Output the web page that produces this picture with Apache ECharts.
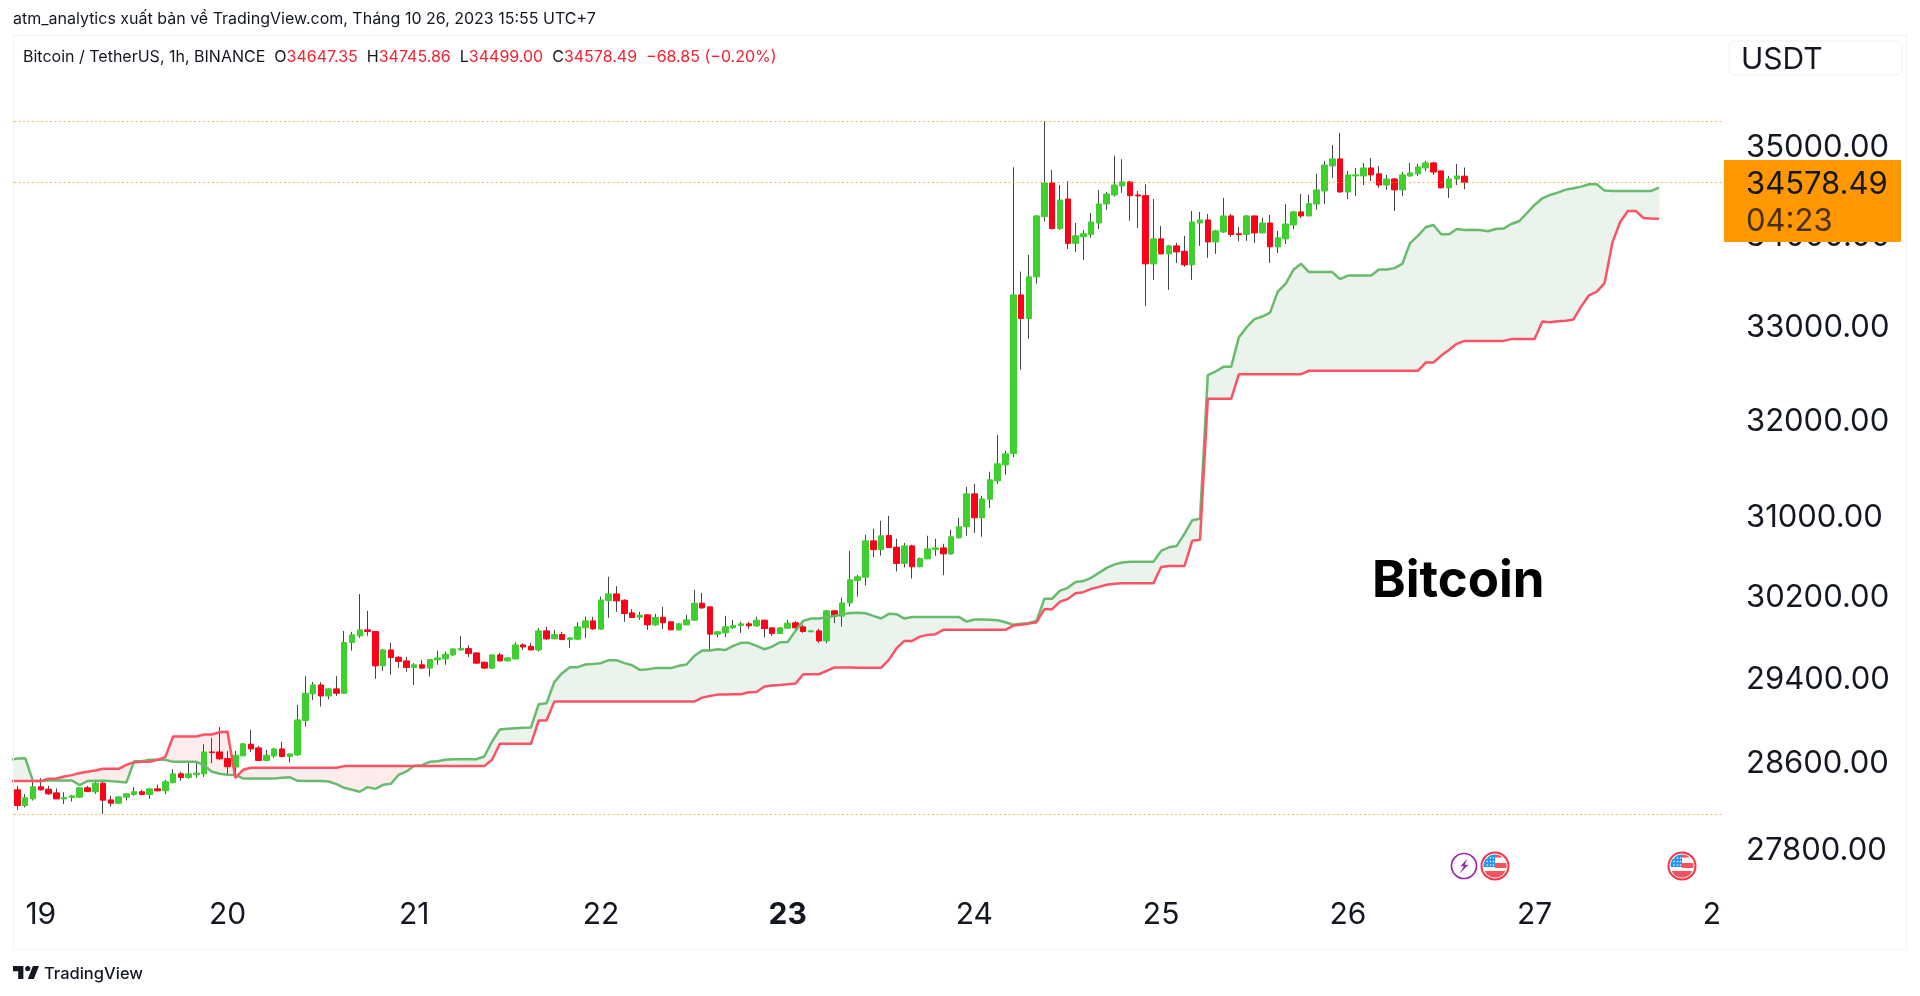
<!DOCTYPE html>
<html>
<head>
<meta charset="utf-8">
<title>Bitcoin / TetherUS</title>
<style>html,body{margin:0;padding:0;background:#fff}#c{width:1920px;height:996px}</style>
<script src="https://cdn.jsdelivr.net/npm/echarts@6/dist/echarts.min.js"></script>
</head>
<body>
<div id="c"></div>
<script>
// hours counted from 19 Oct 00:00 (UTC+7); first candle sits at hour -3, first cloud point at hour -4
const firstCandleHour = -3;
const firstCloudHour = -4;
const dayLabels = ['19','20','21','22','23','24','25','26','27','28'];
const dayTicks = [0,24,48,72,96,120,144,168,192,216];
const priceTicks = [27800,28600,29400,30200,31000,32000,33000,34000,35000];
const lastClose = 34578.49;
const rangeHigh = 35276;
const rangeLow = 28113;

const opens = [
28336,28191,28252,28364,28342,28308,28252,28265,28268,28355,
28318,28398,28243,28212,28268,28293,28318,28293,28345,28327,
28402,28485,28451,28476,28485,28690,28690,28628,28548,28653,
28763,28728,28610,28653,28718,28647,28662,28987,29241,29327,
29221,29289,29247,29737,29802,29861,29845,29511,29665,29594,
29559,29495,29521,29489,29569,29578,29617,29665,29678,29636,
29546,29489,29617,29559,29578,29714,29701,29665,29851,29773,
29815,29766,29770,29881,29949,29868,30149,30215,30152,30028,
29985,30008,29910,29985,29940,29861,29910,29956,30123,30087,
29819,29832,29881,29904,29920,29900,29956,29881,29825,29878,
29930,29891,29842,29851,29753,30048,29995,30126,30348,30381,
30745,30657,30799,30681,30518,30694,30485,30564,30657,30674,
30614,30776,30887,31222,30978,31167,31355,31520,31637,33325,
33068,33523,34191,34570,34057,34389,33893,33966,33992,34120,
34333,34435,34536,34582,34435,34427,33666,33943,33776,33865,
33805,33655,34120,34154,33909,34020,34199,34000,33992,34199,
34009,34120,33854,33943,34098,34244,34199,34333,34480,34764,
34844,34469,34650,34650,34741,34674,34547,34616,34492,34650,
34674,34741,34798,34707,34515,34616,34647.35];
const closes = [
28191,28262,28364,28336,28299,28252,28265,28280,28355,28321,
28398,28240,28212,28271,28299,28318,28293,28345,28327,28411,
28485,28451,28485,28492,28690,28684,28625,28551,28659,28766,
28718,28610,28659,28718,28647,28672,28993,29247,29327,29221,
29289,29247,29737,29812,29861,29845,29511,29665,29591,29553,
29495,29521,29489,29572,29588,29623,29675,29681,29630,29537,
29489,29617,29559,29588,29714,29694,29665,29851,29773,29815,
29766,29783,29891,29949,29871,30155,30215,30146,30021,29982,
30005,29910,29982,29930,29861,29920,29959,30123,30077,29819,
29842,29891,29904,29920,29900,29956,29874,29825,29881,29927,
29881,29845,29851,29753,30048,29995,30126,30355,30385,30745,
30657,30796,30678,30518,30694,30485,30567,30664,30674,30614,
30786,30887,31222,30978,31170,31366,31531,31634,33325,33068,
33523,34199,34570,34057,34378,33893,33977,34000,34131,34333,
34446,34547,34582,34427,34424,33666,33943,33776,33865,33798,
33655,34131,34154,33909,34031,34199,33992,33989,34199,34009,
34120,33854,33955,34109,34244,34199,34337,34492,34775,34844,
34469,34662,34662,34741,34662,34547,34616,34492,34662,34684,
34752,34798,34695,34515,34616,34650,34578.49];
const lows = [
28151,28173,28237,28330,28290,28250,28206,28228,28262,28318,
28299,28113,28182,28208,28237,28280,28287,28252,28321,28296,
28398,28420,28439,28448,28457,28585,28616,28467,28476,28650,
28690,28606,28603,28634,28645,28591,28653,28930,29183,29120,
29189,29221,29241,29659,29783,29802,29386,29463,29424,29492,
29453,29327,29479,29408,29521,29521,29607,29659,29598,29530,
29479,29479,29553,29553,29575,29665,29662,29649,29763,29770,
29763,29685,29763,29783,29861,29861,29979,30038,29940,29976,
29959,29861,29900,29871,29858,29855,29907,29949,30067,29652,
29789,29793,29871,29832,29871,29891,29789,29802,29822,29874,
29871,29832,29838,29734,29730,29927,29894,30090,30188,30298,
30578,30597,30675,30438,30478,30368,30481,30560,30594,30401,
30604,30766,30796,30826,30786,31079,31325,31417,31600,32517,
32849,33449,34135,34050,34042,33831,33798,33710,33955,34053,
34266,34416,34458,34147,34065,33205,33490,33770,33380,33677,
33633,33490,33865,33732,33776,34009,33966,33915,33921,33898,
34005,33677,33787,33887,34050,34173,34195,34269,34333,34628,
34458,34389,34424,34547,34593,34515,34492,34255,34424,34639,
34650,34707,34662,34510,34401,34547,34499];
const highs = [
28373,28296,28414,28445,28373,28349,28314,28290,28358,28373,
28414,28429,28280,28275,28302,28361,28336,28351,28383,28429,
28529,28504,28585,28600,28763,28823,28924,28700,28700,28775,
28899,28747,28709,28728,28785,28675,29136,29411,29356,29353,
29299,29411,29851,29842,30214,30048,29848,29675,29737,29607,
29598,29537,29569,29575,29659,29649,29681,29802,29711,29643,
29553,29623,29636,29594,29737,29730,29734,29878,29891,29861,
29842,29789,29933,29992,29989,30188,30385,30292,30162,30064,
30038,30015,30018,30087,29946,29927,30008,30255,30225,30090,
29851,29999,29959,29943,29940,29989,29959,29884,29884,29959,
29946,29910,29855,29871,30057,30057,30178,30644,30405,30806,
30867,30948,30998,30766,30725,30705,30577,30796,30766,30715,
30857,30978,31294,31325,31201,31449,31832,31665,34749,33581,
33765,34210,35276,34718,34547,34593,34120,34042,34232,34492,
34469,34881,34840,34593,34480,34555,34389,34087,33876,33898,
33977,34255,34244,34221,34042,34401,34221,34076,34210,34203,
34180,34210,34031,34333,34255,34446,34437,34674,34821,35003,
35143,34707,34741,34798,34855,34764,34662,34628,34695,34798,
34787,34821,34810,34710,34650,34787,34745.86];

const spanA = [
28616,28628,28631,28417,28417,28423,28423,28423,28423,28380,
28417,28420,28420,28417,28411,28405,28603,28603,28616,28616,
28616,28597,28597,28597,28597,28563,28504,28485,28476,28473,
28442,28442,28442,28442,28442,28448,28454,28420,28417,28417,
28417,28414,28389,28355,28336,28318,28361,28345,28383,28392,
28476,28507,28560,28566,28597,28603,28616,28622,28622,28622,
28622,28647,28788,28902,28908,28914,28918,28921,29142,29151,
29354,29440,29498,29498,29524,29530,29537,29566,29566,29537,
29517,29472,29479,29489,29489,29489,29511,29524,29607,29659,
29659,29672,29665,29704,29734,29734,29704,29672,29698,29740,
29743,29851,29949,29972,29972,29985,29998,30014,30027,30028,
30024,29998,29972,30018,30015,29972,29988,29988,29988,29988,
29988,29988,29988,29942,29962,29962,29959,29955,29936,29910,
29920,29927,29952,30168,30168,30248,30275,30332,30342,30375,
30424,30474,30509,30528,30534,30534,30534,30534,30644,30680,
30694,30816,30954,30968,32461,32499,32549,32549,32867,32975,
33062,33090,33133,33361,33446,33600,33666,33575,33575,33575,
33575,33498,33537,33537,33537,33537,33603,33603,33619,33666,
33895,33977,34072,34098,33994,33994,34053,34042,34045,34042,
34027,34053,34057,34109,34139,34229,34322,34397,34435,34461,
34495,34511,34529,34556,34556,34484,34480,34480,34480,34480,
34480,34480,34518];
const spanB = [
28417,28417,28417,28417,28417,28439,28442,28460,28473,28492,
28504,28516,28532,28532,28532,28569,28594,28597,28597,28616,
28641,28835,28835,28835,28835,28854,28854,28876,28880,28448,
28523,28541,28541,28541,28541,28541,28541,28541,28541,28541,
28541,28541,28541,28557,28557,28557,28557,28557,28557,28557,
28557,28557,28557,28557,28557,28557,28557,28557,28557,28557,
28557,28557,28616,28766,28766,28766,28766,28766,28987,28987,
29167,29167,29167,29167,29167,29167,29167,29167,29167,29167,
29167,29167,29167,29167,29167,29167,29167,29167,29167,29205,
29221,29234,29234,29237,29237,29256,29260,29312,29321,29327,
29334,29340,29430,29430,29430,29463,29495,29495,29495,29492,
29492,29492,29492,29569,29682,29753,29753,29795,29812,29819,
29861,29861,29861,29861,29861,29861,29861,29861,29861,29903,
29910,29923,29936,30064,30064,30138,30165,30222,30232,30265,
30285,30305,30315,30320,30320,30320,30320,30320,30482,30492,
30492,30492,30745,30755,32209,32209,32209,32209,32471,32471,
32471,32471,32471,32471,32471,32471,32471,32507,32507,32507,
32507,32507,32507,32507,32507,32507,32507,32507,32507,32507,
32507,32507,32595,32595,32669,32730,32795,32827,32827,32827,
32827,32827,32827,32846,32846,32846,32846,33036,33029,33040,
33044,33058,33200,33321,33362,33454,33901,34131,34255,34255,
34176,34170,34168];

const GREEN = '#3dd02e', RED = '#ff0019', WICK = '#43464f';
const font = 'Inter, "Noto Sans", sans-serif';

const wickRows = opens.map((o, i) => [firstCandleHour + i, o, closes[i], lows[i], highs[i]]);
const bodyRows = opens.map((o, i) => [firstCandleHour + i, o, closes[i], Math.min(o, closes[i]), Math.max(o, closes[i])]);
const cloudHour = i => firstCloudHour + i;
const lineA = spanA.map((v, i) => [cloudHour(i), v]);
const lineB = spanB.map((v, i) => [cloudHour(i), v]);
const cloudRows = spanA.slice(0, -1).map((a, i) => [cloudHour(i), a, spanB[i], cloudHour(i + 1), spanA[i + 1], spanB[i + 1]]);

function cloudSegment(params, api) {
  const h0 = api.value(0), a0 = api.value(1), b0 = api.value(2), h1 = api.value(3), a1 = api.value(4), b1 = api.value(5);
  const A0 = api.coord([h0, a0]), B0 = api.coord([h0, b0]), A1 = api.coord([h1, a1]), B1 = api.coord([h1, b1]);
  const poly = (pts, up) => ({
    type: 'polygon', shape: { points: pts },
    style: { fill: up ? '#eaf3ec' : '#fdecec', stroke: up ? '#eaf3ec' : '#fdecec', lineWidth: 1 }
  });
  const d0 = B0[1] - A0[1], d1 = B1[1] - A1[1];
  if (d0 * d1 < 0) {
    const t = d0 / (d0 - d1);
    const X = [A0[0] + (A1[0] - A0[0]) * t, A0[1] + (A1[1] - A0[1]) * t];
    return { type: 'group', children: [poly([A0, X, B0], d0 > 0), poly([X, A1, B1], d1 > 0)] };
  }
  return poly([A0, A1, B1, B0], d0 + d1 >= 0);
}

const flagSvg = 'data:image/svg+xml;utf8,' + encodeURIComponent(
 '<svg xmlns="http://www.w3.org/2000/svg" width="30" height="30" viewBox="0 0 30 30"><defs><clipPath id="k"><circle cx="15" cy="15" r="11.5"/></clipPath></defs>' +
 '<circle cx="15" cy="15" r="13.5" fill="#fff" stroke="#f23645" stroke-width="2"/><g clip-path="url(#k)">' +
 '<rect x="3" y="3" width="24" height="24" fill="#fff"/><rect x="15" y="3" width="12" height="3.5" fill="#f7525f"/><rect x="15" y="12" width="12" height="5" fill="#f7525f"/><rect x="3" y="20" width="24" height="7" fill="#f7525f"/>' +
 '<rect x="3" y="3" width="12" height="13" fill="#2196f3"/>' +
 '<g fill="#fff"><circle cx="7" cy="7" r=".8"/><circle cx="10.5" cy="7" r=".8"/><circle cx="13.5" cy="7" r=".8"/><circle cx="7" cy="10.5" r=".8"/><circle cx="10.5" cy="10.5" r=".8"/><circle cx="13.5" cy="10.5" r=".8"/><circle cx="7" cy="14" r=".8"/><circle cx="10.5" cy="14" r=".8"/><circle cx="13.5" cy="14" r=".8"/></g></g></svg>');
const boltSvg = 'data:image/svg+xml;utf8,' + encodeURIComponent(
 '<svg xmlns="http://www.w3.org/2000/svg" width="28" height="28" viewBox="0 0 28 28"><circle cx="14" cy="14" r="12.5" fill="#fff" stroke="#9c27b0" stroke-width="1.7"/><path d="M17.5 6.5 L10.5 14.2 L13.8 14.2 L9.5 21.5 L18.5 12.8 L14.8 12.8 Z" fill="#9c27b0"/></svg>');
const tvLogoSvg = 'data:image/svg+xml;utf8,' + encodeURIComponent(
 '<svg xmlns="http://www.w3.org/2000/svg" width="26" height="13" viewBox="2 6 30 15"><path fill="#131722" d="M14 6H2v6h6v9h6V6Zm12 15h-7l6-15h7l-6 15Zm-7-9a3 3 0 1 0 0-6 3 3 0 0 0 0 6Z"/></svg>');

const graphicEls = [
  { type: 'rect', z: 5, shape: { x: 1723, y: 892, width: 40, height: 54 }, style: { fill: '#fff' }, silent: true },
  { type: 'rect', z: 6, shape: { x: 13.5, y: 35.5, width: 1893, height: 914 }, style: { fill: 'none', stroke: '#f0f1f5', lineWidth: 1 }, silent: true },
  { type: 'text', z: 6, style: { x: 13, y: 19, text: 'atm_analytics xuất bản về TradingView.com, Tháng 10 26, 2023 15:55 UTC+7', font: '16px ' + font, fill: '#131722', textVerticalAlign: 'middle' } },
  { type: 'text', z: 6, style: { x: 23, y: 57, textVerticalAlign: 'middle', font: '16px ' + font,
      text: '{k|Bitcoin / TetherUS, 1h, BINANCE}{k|  O}{r|34647.35}{k|  H}{r|34745.86}{k|  L}{r|34499.00}{k|  C}{r|34578.49}{r|  −68.85 (−0.20%)}',
      rich: { k: { fill: '#131722', font: '16px ' + font }, r: { fill: '#f7202f', font: '16px ' + font } } } },
  { type: 'rect', z: 6, shape: { x: 1729, y: 41, width: 173, height: 34, r: 6 }, style: { fill: '#fff', stroke: '#eff1f5', lineWidth: 1 } },
  { type: 'text', z: 7, style: { x: 1741, y: 60, text: 'USDT', font: '30px ' + font, fill: '#131722', textVerticalAlign: 'middle' } },
  { type: 'rect', z: 20, shape: { x: 1724, y: 160, width: 177, height: 82, r: 1 }, style: { fill: '#ff9800' } },
  { type: 'text', z: 21, style: { x: 1746, y: 185, text: lastClose.toFixed(2), font: '31px ' + font, fill: '#131722', textVerticalAlign: 'middle' } },
  { type: 'text', z: 21, style: { x: 1746, y: 222, text: '04:23', font: '31px ' + font, fill: '#4a3000', textVerticalAlign: 'middle' } },
  { type: 'text', z: 6, style: { x: 1372, y: 582, text: 'Bitcoin', font: 'bold 51px ' + font, fill: '#000', textVerticalAlign: 'middle' } },
  { type: 'image', z: 6, style: { image: boltSvg, x: 1450, y: 852, width: 28, height: 28 } },
  { type: 'image', z: 6, style: { image: flagSvg, x: 1480, y: 851, width: 30, height: 30 } },
  { type: 'image', z: 6, style: { image: flagSvg, x: 1667, y: 851, width: 30, height: 30 } },
  { type: 'image', z: 6, style: { image: tvLogoSvg, x: 13, y: 966, width: 26, height: 13 } },
  { type: 'text', z: 6, style: { x: 44, y: 974, text: 'TradingView', font: '500 16.5px ' + font, fill: '#131722', textVerticalAlign: 'middle' } }
];

const chart = echarts.init(document.getElementById('c'), null, { renderer: 'canvas' });
chart.setOption({
  animation: false,
  backgroundColor: '#fff',
  grid: { left: 14, top: 36, width: 1710, height: 854, containLabel: false },
  xAxis: {
    type: 'value', min: -3.445, max: 216.35, z: 1,
    axisLine: { show: false }, axisTick: { show: false }, splitLine: { show: false },
    axisLabel: {
      customValues: dayTicks, hideOverlap: false, showMinLabel: true, showMaxLabel: true, margin: 10,
      formatter: v => { const s = dayLabels[dayTicks.indexOf(v)]; return s === '23' ? '{b|' + s + '}' : '{n|' + s + '}'; },
      rich: {
        n: { fontFamily: 'Inter', fontSize: 30, color: '#131722' },
        b: { fontFamily: 'Inter', fontSize: 30, fontWeight: 'bold', color: '#131722' }
      }
    }
  },
  yAxis: {
    type: 'log', logBase: 10, min: 27421, max: 36276, position: 'right', z: 10,
    axisLine: { show: false }, axisTick: { show: false }, splitLine: { show: false }, minorTick: { show: false },
    axisLabel: {
      customValues: priceTicks, align: 'left', margin: 22,
      formatter: v => '{v|' + Number(v).toFixed(2) + '}',
      rich: { v: { fontFamily: 'Inter', fontSize: 31, color: '#131722', padding: [5, 0, 0, 0] } }
    }
  },
  series: [
    { type: 'custom', name: 'Cloud', z: 1, clip: true, silent: true, renderItem: cloudSegment,
      data: cloudRows, encode: { x: [0, 3], y: [1, 2, 4, 5] } },
    { type: 'candlestick', name: 'Wicks', z: 2, barWidth: 1, silent: true, clip: true,
      itemStyle: { color: WICK, color0: WICK, borderColor: WICK, borderColor0: WICK, borderWidth: 1 },
      data: wickRows },
    { type: 'candlestick', name: 'Bitcoin / TetherUS', z: 3, barWidth: 6, silent: true, clip: true,
      itemStyle: { color: GREEN, color0: RED, borderColor: GREEN, borderColor0: RED, borderWidth: 1 },
      data: bodyRows,
      markLine: {
        silent: true, symbol: 'none', label: { show: false }, z: 4,
        lineStyle: { color: '#ff9800', type: [2, 2.5], width: 1, opacity: 0.7 },
        data: [{ yAxis: rangeHigh }, { yAxis: lastClose }, { yAxis: rangeLow }]
      } },
    { type: 'line', name: 'Leading Span A', z: 5, data: lineA, showSymbol: false, silent: true, clip: true,
      lineStyle: { color: '#68bb6d', width: 2.5 } },
    { type: 'line', name: 'Leading Span B', z: 5, data: lineB, showSymbol: false, silent: true, clip: true,
      lineStyle: { color: '#fc5263', width: 2.5 } }
  ],
  graphic: { elements: graphicEls }
});
</script>
</body>
</html>
